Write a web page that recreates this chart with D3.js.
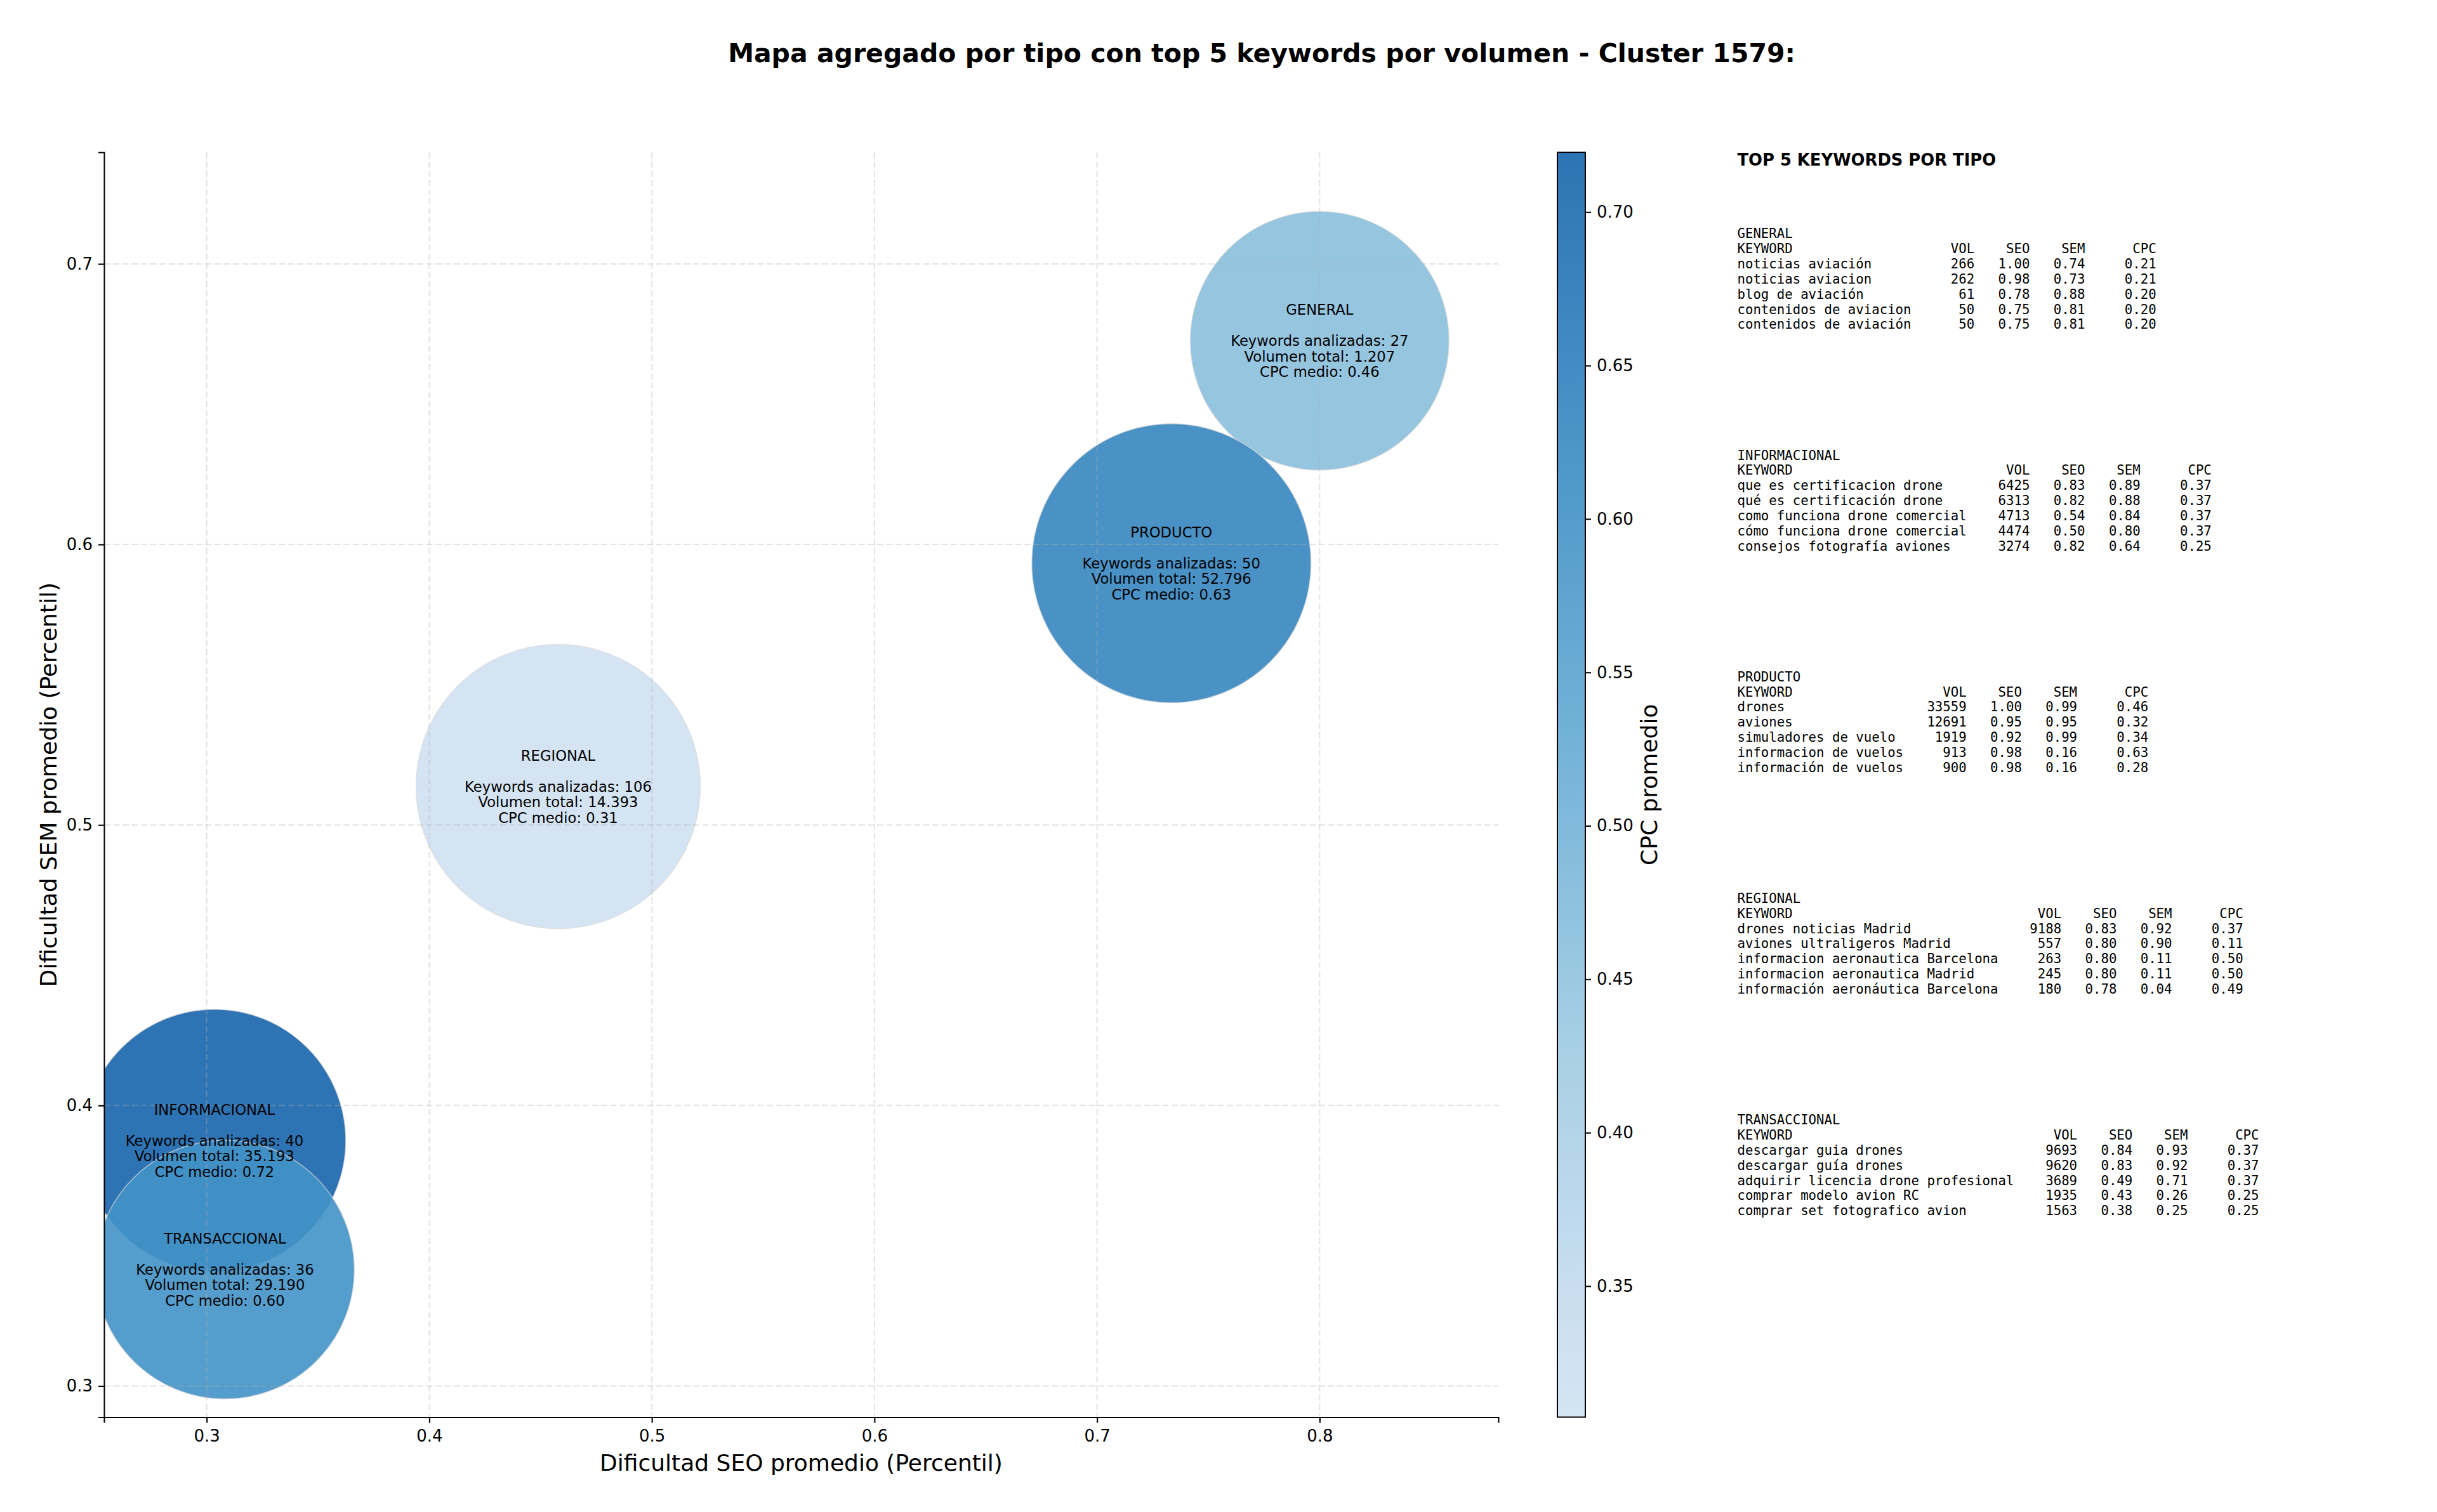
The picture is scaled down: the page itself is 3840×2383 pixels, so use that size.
<!DOCTYPE html>
<html><head><meta charset="utf-8">
<script src="https://cdn.jsdelivr.net/npm/d3@7"></script>
<style>body{margin:0;background:#fff}svg{display:block}</style>
</head><body>
<svg id="c" width="3840" height="2383" xmlns="http://www.w3.org/2000/svg"></svg>
<script>
// ---------------- DATA ----------------
const tipos = ["GENERAL", "INFORMACIONAL", "PRODUCTO", "REGIONAL", "TRANSACCIONAL"];
const seoMedio = [0.800, 0.3035, 0.7334, 0.4579, 0.3082];
const semMedio = [0.6726, 0.3875, 0.5933, 0.5137, 0.3415];
const cpcMedio = [0.4600, 0.7195, 0.6300, 0.3073, 0.6000];
const keywordsAnalizadas = [27, 40, 50, 106, 36];
const volumenTotal = [1207, 35193, 52796, 14393, 29190];
const bubbleArea = [41600, 42800, 48400, 50200, 41600];

const xTicks = [0.3, 0.4, 0.5, 0.6, 0.7, 0.8];
const yTicks = [0.3, 0.4, 0.5, 0.6, 0.7];
const cbTicks = [0.35, 0.40, 0.45, 0.50, 0.55, 0.60, 0.65, 0.70];

// top 5 keywords per type: [keyword, vol, seo, sem, cpc]
const topGeneral = [
  ["noticias aviación", 266, 1.00, 0.74, 0.21],
  ["noticias aviacion", 262, 0.98, 0.73, 0.21],
  ["blog de aviación", 61, 0.78, 0.88, 0.20],
  ["contenidos de aviacion", 50, 0.75, 0.81, 0.20],
  ["contenidos de aviación", 50, 0.75, 0.81, 0.20]
];
const topInformacional = [
  ["que es certificacion drone", 6425, 0.83, 0.89, 0.37],
  ["qué es certificación drone", 6313, 0.82, 0.88, 0.37],
  ["como funciona drone comercial", 4713, 0.54, 0.84, 0.37],
  ["cómo funciona drone comercial", 4474, 0.50, 0.80, 0.37],
  ["consejos fotografía aviones", 3274, 0.82, 0.64, 0.25]
];
const topProducto = [
  ["drones", 33559, 1.00, 0.99, 0.46],
  ["aviones", 12691, 0.95, 0.95, 0.32],
  ["simuladores de vuelo", 1919, 0.92, 0.99, 0.34],
  ["informacion de vuelos", 913, 0.98, 0.16, 0.63],
  ["información de vuelos", 900, 0.98, 0.16, 0.28]
];
const topRegional = [
  ["drones noticias Madrid", 9188, 0.83, 0.92, 0.37],
  ["aviones ultraligeros Madrid", 557, 0.80, 0.90, 0.11],
  ["informacion aeronautica Barcelona", 263, 0.80, 0.11, 0.50],
  ["informacion aeronautica Madrid", 245, 0.80, 0.11, 0.50],
  ["información aeronáutica Barcelona", 180, 0.78, 0.04, 0.49]
];
const topTransaccional = [
  ["descargar guia drones", 9693, 0.84, 0.93, 0.37],
  ["descargar guía drones", 9620, 0.83, 0.92, 0.37],
  ["adquirir licencia drone profesional", 3689, 0.49, 0.71, 0.37],
  ["comprar modelo avion RC", 1935, 0.43, 0.26, 0.25],
  ["comprar set fotografico avion", 1563, 0.38, 0.25, 0.25]
];
const topTables = [topGeneral, topInformacional, topProducto, topRegional, topTransaccional];

// ---------------- LAYOUT ----------------
const svg = d3.select("#c");
const SANS = "'DejaVu Sans', 'Liberation Sans', sans-serif";
const MONO = "'DejaVu Sans Mono', 'Liberation Mono', monospace";
const plot = {left: 164, right: 2361, top: 240, bottom: 2233.5};

const x = d3.scaleLinear().domain([0.2539, 0.8803]).range([plot.left, plot.right]);
const y = d3.scaleLinear().domain([0.2889, 0.7398]).range([plot.bottom, plot.top]);
const r = d3.scaleSqrt().domain([0, d3.max(bubbleArea)]).range([0, 224]);

// Matplotlib "Blues" (linear between ColorBrewer stops), truncated 0.2..0.8
const blues9 = ["#f7fbff","#deebf7","#c6dbef","#9ecae1","#6baed6","#4292c6","#2171b5","#08519c","#08306b"];
const blues = d3.scaleLinear().domain(d3.range(9).map(i => i / 8)).range(blues9).interpolate(d3.interpolateRgb);
const cExtent = d3.extent(cpcMedio);
const norm = d3.scaleLinear().domain(cExtent).range([0.2, 0.8]).clamp(true);
const color = v => blues(norm(v));
const ALPHA = 0.9;

const esLocale = d3.formatLocale({decimal: ",", thousands: ".", grouping: [3], currency: ["", "€"]});
const fmtVol = esLocale.format(",d");

// ---------------- TITLE ----------------
svg.append("text").attr("x", 1988).attr("y", 84)
  .attr("text-anchor", "middle").attr("dominant-baseline", "central")
  .style("font-family", SANS).style("font-weight", "bold").style("font-size", "41px")
  .text("Mapa agregado por tipo con top 5 keywords por volumen - Cluster 1579:");

// ---------------- CLIP ----------------
svg.append("defs").append("clipPath").attr("id", "plotclip")
  .append("rect").attr("x", plot.left).attr("y", plot.top)
  .attr("width", plot.right - plot.left).attr("height", plot.bottom - plot.top);

// ---------------- BUBBLES ----------------
const data = tipos.map((t, i) => ({
  tipo: t, seo: seoMedio[i], sem: semMedio[i], cpc: cpcMedio[i],
  kw: keywordsAnalizadas[i], vol: volumenTotal[i], area: bubbleArea[i]
}));

const gB = svg.append("g").attr("clip-path", "url(#plotclip)");
gB.selectAll("circle").data(data).join("circle")
  .attr("cx", d => x(d.seo)).attr("cy", d => y(d.sem)).attr("r", d => r(d.area))
  .attr("fill", d => color(d.cpc)).attr("fill-opacity", ALPHA)
  .attr("stroke", "#d8d8d8").attr("stroke-opacity", 0.8).attr("stroke-width", 1.3);

// ---------------- GRID (on top of bubbles) ----------------
const gG = svg.append("g").attr("clip-path", "url(#plotclip)");
gG.selectAll("line.gx").data(xTicks).join("line").attr("class", "gx")
  .attr("x1", d => x(d)).attr("x2", d => x(d)).attr("y1", plot.top).attr("y2", plot.bottom);
gG.selectAll("line.gy").data(yTicks).join("line").attr("class", "gy")
  .attr("x1", plot.left).attr("x2", plot.right).attr("y1", d => y(d)).attr("y2", d => y(d));
gG.selectAll("line").attr("stroke", "#b0b0b0").attr("stroke-opacity", 0.35)
  .attr("stroke-width", 2).attr("stroke-dasharray", "10,4.5");

// ---------------- BUBBLE LABELS ----------------
const LH = 24.5;
const gT = svg.append("g");
data.forEach(d => {
  const lines = [d.tipo, "", "Keywords analizadas: " + d.kw, "Volumen total: " + fmtVol(d.vol), "CPC medio: " + d.cpc.toFixed(2)];
  const t = gT.append("text").attr("text-anchor", "middle")
    .style("font-family", SANS).style("font-size", "22.7px").attr("fill", "#000");
  lines.forEach((ln, i) => {
    t.append("tspan").attr("x", x(d.seo)).attr("y", y(d.sem) + (i - 2) * LH)
      .attr("dominant-baseline", "central").text(ln === "" ? "\u00a0" : ln);
  });
});

// ---------------- AXES ----------------
function styleAxis(g) {
  g.select(".domain").attr("stroke", "#000").attr("stroke-width", 2.1);
  g.selectAll(".tick line").attr("stroke", "#000").attr("stroke-width", 2.1);
  g.selectAll(".tick text").style("font-family", SANS).style("font-size", "26px").attr("fill", "#000");
}
const gx = svg.append("g").attr("transform", `translate(0,${plot.bottom})`)
  .call(d3.axisBottom(x).tickValues(xTicks).tickFormat(d3.format(".1f")).tickSizeOuter(0).tickSize(9).tickPadding(11));
styleAxis(gx);
const gy = svg.append("g").attr("transform", `translate(${plot.left},0)`)
  .call(d3.axisLeft(y).tickValues(yTicks).tickFormat(d3.format(".1f")).tickSizeOuter(0).tickSize(9).tickPadding(9));
styleAxis(gy);

svg.append("text").attr("x", (plot.left + plot.right) / 2).attr("y", 2305)
  .attr("text-anchor", "middle").attr("dominant-baseline", "central")
  .style("font-family", SANS).style("font-size", "36px")
  .text("Dificultad SEO promedio (Percentil)");
svg.append("text").attr("transform", `translate(76,${(plot.top + plot.bottom) / 2}) rotate(-90)`)
  .attr("text-anchor", "middle").attr("dominant-baseline", "central")
  .style("font-family", SANS).style("font-size", "36px")
  .text("Dificultad SEM promedio (Percentil)");

// ---------------- COLORBAR ----------------
const cb = {left: 2454, right: 2498, top: 240, bottom: 2233.5};
const cy = d3.scaleLinear().domain(cExtent).range([cb.bottom, cb.top]);
const grad = svg.select("defs").append("linearGradient").attr("id", "cbgrad")
  .attr("x1", 0).attr("y1", 1).attr("x2", 0).attr("y2", 0);
d3.range(0, 1.0001, 0.02).forEach(f => {
  const v = cExtent[0] + f * (cExtent[1] - cExtent[0]);
  grad.append("stop").attr("offset", f).attr("stop-color", color(v)).attr("stop-opacity", ALPHA);
});
svg.append("rect").attr("x", cb.left).attr("y", cb.top)
  .attr("width", cb.right - cb.left).attr("height", cb.bottom - cb.top)
  .attr("fill", "url(#cbgrad)").attr("stroke", "#000").attr("stroke-width", 2);
const gcb = svg.append("g").attr("transform", `translate(${cb.right},0)`)
  .call(d3.axisRight(cy).tickValues(cbTicks).tickFormat(d3.format(".2f")).tickSizeOuter(0).tickSize(9).tickPadding(9));
styleAxis(gcb);
gcb.select(".domain").remove();
svg.append("text").attr("transform", `translate(2598,${(cb.top + cb.bottom) / 2}) rotate(-90)`)
  .attr("text-anchor", "middle").attr("dominant-baseline", "central")
  .style("font-family", SANS).style("font-size", "36px")
  .text("CPC promedio");

// ---------------- TOP-5 TABLES ----------------
const TX = 2737.5;
svg.append("text").attr("x", TX).attr("y", 252).attr("dominant-baseline", "central")
  .style("font-family", SANS).style("font-weight", "bold").style("font-size", "25.8px")
  .text("TOP 5 KEYWORDS POR TIPO");

const MLH = 23.85, BLOCK0 = 368.3, BLOCKSTEP = 349.2;
topTables.forEach((rows, bi) => {
  const w = d3.max(rows, rw => rw[0].length) + 2;
  const lines = [tipos[bi],
    "KEYWORD".padEnd(w) + "VOL".padStart(6) + "SEO".padStart(7) + "SEM".padStart(7) + "CPC".padStart(9)];
  rows.forEach(rw => {
    lines.push(rw[0].padEnd(w) + String(rw[1]).padStart(6) + rw[2].toFixed(2).padStart(7) +
      rw[3].toFixed(2).padStart(7) + rw[4].toFixed(2).padStart(9));
  });
  const t = svg.append("text").attr("xml:space", "preserve").style("white-space", "pre")
    .style("font-family", MONO).style("font-size", "20.7px").attr("fill", "#000");
  lines.forEach((ln, i) => {
    t.append("tspan").attr("x", TX).attr("y", BLOCK0 + bi * BLOCKSTEP + i * MLH)
      .attr("dominant-baseline", "central").text(ln);
  });
});
</script>
</body></html>
